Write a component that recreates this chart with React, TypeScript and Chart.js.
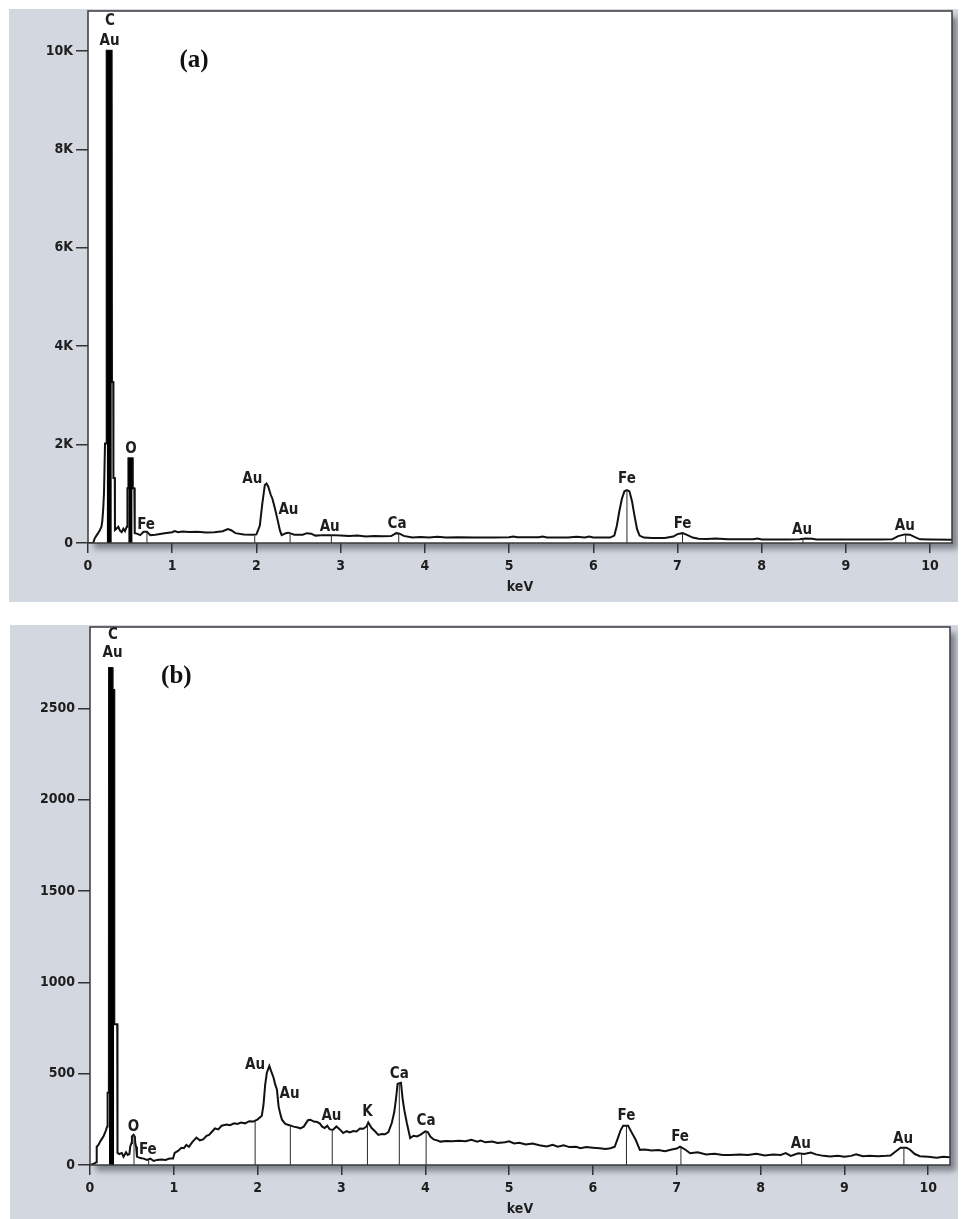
import React, { useEffect, useRef } from "react";
import { Chart, registerables } from "chart.js";

Chart.register(...registerables);

// ---------- Panel (a) data ----------
const specAKeV = [
  0.0, 0.06, 0.08, 0.1, 0.12, 0.14, 0.16, 0.17, 0.18, 0.19, 0.2, 0.202, 0.218, 0.222, 0.281, 0.285, 0.3, 0.302, 0.318, 0.32,
  0.33, 0.36, 0.38, 0.4, 0.42, 0.44, 0.46, 0.465, 0.468, 0.478, 0.48, 0.53, 0.532, 0.55, 0.555,
  0.58, 0.62, 0.66, 0.7, 0.74, 0.8, 0.91, 1.0, 1.03, 1.07, 1.12, 1.2, 1.3, 1.4, 1.5, 1.6, 1.66, 1.7, 1.75, 1.85, 1.95, 2.0,
  2.04, 2.07, 2.1, 2.12, 2.14, 2.17, 2.19, 2.22, 2.25, 2.28, 2.3, 2.35, 2.38, 2.45, 2.55, 2.6, 2.65, 2.7, 2.8, 2.9, 3.0,
  3.1, 3.2, 3.3, 3.4, 3.5, 3.6, 3.66, 3.7, 3.75, 3.85, 3.95, 4.05, 4.15, 4.25, 4.4, 4.6, 4.8, 5.0, 5.05, 5.1, 5.35, 5.4,
  5.45, 5.7, 5.8, 5.9, 5.95, 6.0, 6.2, 6.25, 6.28, 6.31, 6.34, 6.37, 6.4, 6.43, 6.46, 6.49, 6.52, 6.55, 6.6, 6.7, 6.85,
  6.95, 7.0, 7.06, 7.12, 7.18, 7.25, 7.35, 7.45, 7.6, 7.9, 7.95, 8.0, 8.3, 8.45, 8.52, 8.6, 8.65, 9.0, 9.4, 9.55, 9.62,
  9.7, 9.76, 9.82, 9.88, 10.0, 10.26,
];
const specACounts = [
  0, 0, 95, 150, 200, 260, 330, 450, 670, 1015, 1015, 2020, 2020, 10000, 10000, 3270, 3270, 1320, 1320, 264,
  280, 330, 250, 220, 290, 240, 330, 330, 1110, 1110, 1720, 1720, 1110, 1110, 200,
  190, 160, 230, 230, 160, 170, 197, 220, 244, 220, 235, 225, 230, 215, 220, 240, 285, 260, 200, 175, 170, 175,
  350, 800, 1180, 1210, 1150, 980, 900, 700, 480, 250, 160, 200, 210, 170, 170, 200, 190, 150, 160, 160, 150,
  140, 150, 130, 140, 135, 140, 200, 190, 145, 110, 120, 110, 125, 110, 115, 110, 110, 115, 130, 115, 115, 130,
  110, 110, 125, 110, 130, 110, 110, 150, 350, 650, 900, 1050, 1076, 1050, 850, 550, 280, 150, 110, 100, 100,
  130, 180, 200, 160, 110, 85, 80, 90, 75, 75, 90, 70, 70, 75, 90, 85, 70, 70, 70, 75, 140,
  175, 170, 120, 75, 70, 65,
];
// solid black peak regions (keV, counts)
const fillAKeV = [0.222, 0.222, 0.281, 0.281, 0.48, 0.48, 0.53, 0.53];
const fillACounts = [0, 10000, 10000, 0, 0, 1720, 1720, 0];
// element marker lines
const markerAKeV = [0.505, 0.7, 1.98, 2.4, 2.89, 3.69, 6.4, 7.06, 8.49, 9.71];
const markerATop = [1720, 230, 175, 205, 160, 190, 1076, 200, 85, 175];
// element labels
const labelAText = ["C", "Au", "O", "Fe", "Au", "Au", "Au", "Ca", "Fe", "Fe", "Au", "Au"];
const labelAKeV = [0.26, 0.255, 0.51, 0.69, 1.95, 2.38, 2.87, 3.67, 6.4, 7.06, 8.48, 9.7];
const labelACounts = [10600, 10190, 1910, 365, 1300, 670, 330, 385, 1300, 385, 264, 345];
const yTicksA = [0, 2000, 4000, 6000, 8000, 10000];

// ---------- Panel (b) data ----------
const specBKeV = [
  0.0, 0.06, 0.075, 0.08, 0.1, 0.13, 0.16, 0.19, 0.205, 0.21, 0.225, 0.227, 0.268, 0.27, 0.288, 0.29, 0.325, 0.328,
  0.35, 0.38, 0.4, 0.43, 0.45, 0.47, 0.48, 0.495, 0.5, 0.52, 0.535, 0.54, 0.55, 0.56, 0.6, 0.64, 0.68, 0.72, 0.76, 0.8,
  0.85, 0.9, 0.95, 0.99, 1.01, 1.05, 1.09, 1.12, 1.15, 1.18, 1.22, 1.27, 1.31, 1.35, 1.39, 1.42, 1.46, 1.49, 1.53, 1.57,
  1.63, 1.67, 1.72, 1.76, 1.8, 1.85, 1.9, 1.95, 2.0, 2.03, 2.05, 2.07, 2.09, 2.11, 2.14, 2.16, 2.19, 2.21, 2.23, 2.25,
  2.27, 2.29, 2.33, 2.38, 2.43, 2.48, 2.51, 2.55, 2.6, 2.63, 2.67, 2.71, 2.74, 2.77, 2.8, 2.83, 2.86, 2.9, 2.94, 2.98,
  3.02, 3.06, 3.1, 3.14, 3.18, 3.22, 3.26, 3.3, 3.32, 3.36, 3.4, 3.44, 3.48, 3.52, 3.56, 3.6, 3.63, 3.65, 3.67, 3.71,
  3.73, 3.75, 3.78, 3.82, 3.86, 3.9, 3.94, 4.0, 4.03, 4.06, 4.1, 4.14, 4.18, 4.25, 4.32, 4.4, 4.48, 4.55, 4.62, 4.66,
  4.72, 4.8, 4.86, 4.95, 5.0, 5.06, 5.12, 5.2, 5.28, 5.36, 5.45, 5.52, 5.58, 5.65, 5.72, 5.8, 5.85, 5.92, 6.0, 6.08,
  6.15, 6.21, 6.26, 6.29, 6.33, 6.36, 6.42, 6.46, 6.51, 6.56, 6.62, 6.7, 6.78, 6.86, 6.94, 7.0, 7.04, 7.1, 7.16, 7.25,
  7.35, 7.45, 7.55, 7.64, 7.75, 7.85, 7.95, 8.05, 8.15, 8.24, 8.3, 8.36, 8.45, 8.52, 8.6, 8.66, 8.75, 8.83, 8.92, 9.0,
  9.08, 9.14, 9.22, 9.3, 9.4, 9.5, 9.55, 9.6, 9.67, 9.74, 9.78, 9.84, 9.9, 10.0, 10.1, 10.18, 10.26,
];
const specBCounts = [
  0, 10, 15, 100, 110, 135, 156, 190, 211, 395, 395, 2720, 2720, 2600, 2600, 770, 770, 66,
  60, 66, 45, 70, 55, 60, 101, 120, 156, 165, 156, 120, 100, 46, 38, 35, 28, 35, 22, 28,
  30, 28, 35, 35, 66, 77, 94, 92, 110, 100, 125, 150, 135, 140, 160, 165, 185, 200, 195, 215,
  222, 218, 228, 225, 232, 228, 240, 238, 250, 262, 270, 330, 440, 505, 542, 515, 478, 440, 413, 321,
  280, 248, 225, 218, 210, 205, 200, 210, 245, 248, 238, 235, 228, 210, 202, 215, 195, 193, 211, 195,
  175, 185, 178, 186, 184, 200, 198, 211, 233, 202, 185, 165, 170, 168, 180, 230, 290, 360, 445, 450,
  360, 300, 230, 147, 160, 156, 165, 184, 180, 156, 140, 135, 128, 132, 130, 133, 130, 138, 128, 134,
  124, 128, 120, 125, 130, 118, 122, 112, 118, 108, 101, 110, 100, 108, 98, 100, 92, 98, 95, 92,
  88, 92, 100, 138, 190, 215, 215, 180, 138, 83, 85, 80, 82, 76, 85, 90, 101, 85, 64, 70,
  58, 62, 55, 55, 58, 55, 62, 52, 58, 55, 65, 50, 64, 60, 68, 58, 50, 46, 50, 45,
  50, 59, 48, 50, 48, 50, 52, 70, 95, 95, 85, 60, 48, 45, 40, 45, 42,
];
const fillBKeV = [0.227, 0.227, 0.268, 0.268, 0.288, 0.288];
const fillBCounts = [0, 2720, 2720, 2600, 2600, 0];
const markerBKeV = [0.525, 0.7, 1.97, 2.39, 2.89, 3.31, 3.69, 4.01, 6.4, 7.05, 8.49, 9.71];
const markerBTop = [165, 30, 245, 218, 193, 225, 450, 184, 215, 101, 62, 95];
const labelBText = ["C", "Au", "O", "Fe", "Au", "Au", "Au", "K", "Ca", "Ca", "Fe", "Fe", "Au", "Au"];
const labelBKeV = [0.275, 0.27, 0.52, 0.69, 1.97, 2.38, 2.88, 3.31, 3.69, 4.01, 6.4, 7.04, 8.48, 9.7];
const labelBCounts = [2900, 2800, 210, 83, 547, 386, 266, 287, 496, 239, 266, 154, 116, 143];
const yTicksB = [0, 500, 1000, 1500, 2000, 2500];

const xTicks = [0, 1, 2, 3, 4, 5, 6, 7, 8, 9, 10];

const TICK_FONT = '"DejaVu Sans Condensed", "DejaVu Sans", sans-serif';

const edsPlugin = {
  id: "eds",
  beforeDraw(chart: any) {
    const { ctx, chartArea: a } = chart;
    ctx.save();
    ctx.fillStyle = "#d3d8e0";
    ctx.fillRect(0, 0, chart.width, chart.height);
    ctx.shadowColor = "rgba(70,74,82,0.6)";
    ctx.shadowOffsetX = 6;
    ctx.shadowOffsetY = 6;
    ctx.shadowBlur = 6;
    ctx.fillStyle = "#ffffff";
    ctx.fillRect(a.left, a.top, a.right - a.left, a.bottom - a.top);
    ctx.restore();
  },
  afterDraw(chart: any, _args: any, opts: any) {
    const { ctx, chartArea: a } = chart;
    const xs = chart.scales.x;
    const ys = chart.scales.y;
    ctx.save();
    ctx.strokeStyle = "#3a3a3a";
    ctx.lineWidth = 1.5;
    ctx.strokeRect(a.left, a.top, a.right - a.left, a.bottom - a.top);
    ctx.fillStyle = "#1e1e1e";
    ctx.font = `bold 15px ${TICK_FONT}`;
    ctx.textAlign = "center";
    ctx.textBaseline = "middle";
    const t: string[] = opts.labelText || [];
    for (let i = 0; i < t.length; i++) {
      ctx.fillText(t[i], xs.getPixelForValue(opts.labelKeV[i]), ys.getPixelForValue(opts.labelCounts[i]));
    }
    ctx.fillStyle = "#111";
    ctx.font = 'bold 25px "Liberation Serif", "Times New Roman", serif';
    ctx.fillText(opts.panel, xs.getPixelForValue(opts.panelKeV), ys.getPixelForValue(opts.panelCounts));
    ctx.restore();
  },
};

function toXY(xs: number[], ys: number[]) {
  return xs.map((x, i) => ({ x, y: ys[i] }));
}

function markerData(xs: number[], tops: number[]) {
  const out: any[] = [];
  xs.forEach((x, i) => {
    out.push({ x, y: 0 }, { x, y: tops[i] }, { x, y: null });
  });
  return out;
}

type PanelProps = {
  width: number;
  height: number;
  style: React.CSSProperties;
  yWidth: number;
  xHeight: number;
  padTop: number;
  padRight: number;
  yMax: number;
  yTicks: number[];
  yFmt: (v: number) => string;
  titlePad: number;
  specKeV: number[];
  specCounts: number[];
  fillKeV: number[];
  fillCounts: number[];
  markerKeV: number[];
  markerTop: number[];
  labelText: string[];
  labelKeV: number[];
  labelCounts: number[];
  panel: string;
  panelKeV: number;
  panelCounts: number;
};

function Panel(p: PanelProps) {
  const ref = useRef<HTMLCanvasElement | null>(null);
  useEffect(() => {
    if (!ref.current) return;
    const zeroPad = (s: any) => {
      s.paddingTop = 0;
      s.paddingBottom = 0;
      s.paddingLeft = 0;
      s.paddingRight = 0;
    };
    const chart = new Chart(ref.current, {
      type: "line",
      data: {
        datasets: [
          {
            data: toXY(p.fillKeV, p.fillCounts),
            borderWidth: 0,
            borderColor: "rgba(0,0,0,0)",
            backgroundColor: "#000",
            fill: "origin",
            pointRadius: 0,
            tension: 0,
          },
          {
            data: markerData(p.markerKeV, p.markerTop),
            borderWidth: 1,
            borderColor: "#2a2a2a",
            pointRadius: 0,
            spanGaps: false,
            fill: false,
            tension: 0,
          },
          {
            data: toXY(p.specKeV, p.specCounts),
            borderWidth: 2,
            borderColor: "#111",
            pointRadius: 0,
            fill: false,
            tension: 0,
            borderJoinStyle: "miter",
          },
        ],
      } as any,
      options: {
        responsive: false,
        animation: false,
        devicePixelRatio: 1,
        layout: { padding: { top: p.padTop, right: p.padRight, left: 0, bottom: 0 } },
        plugins: {
          legend: { display: false },
          tooltip: { enabled: false },
          eds: {
            labelText: p.labelText,
            labelKeV: p.labelKeV,
            labelCounts: p.labelCounts,
            panel: p.panel,
            panelKeV: p.panelKeV,
            panelCounts: p.panelCounts,
          },
        } as any,
        scales: {
          x: {
            type: "linear",
            min: 0,
            max: 10.26,
            afterFit: (s: any) => {
              s.height = p.xHeight;
              zeroPad(s);
            },
            afterBuildTicks: (s: any) => {
              s.ticks = xTicks.map((v) => ({ value: v }));
            },
            ticks: {
              includeBounds: false,
              autoSkip: false,
              maxRotation: 0,
              padding: 5,
              color: "#1e1e1e",
              font: { family: TICK_FONT, size: 14, weight: "bold" },
              callback: (v: any) => String(v),
            },
            grid: {
              drawOnChartArea: false,
              drawTicks: true,
              tickLength: 10,
              color: "#333",
              lineWidth: 1.5,
            },
            border: { display: false },
            title: {
              display: true,
              text: "keV",
              color: "#1e1e1e",
              font: { family: TICK_FONT, size: 14, weight: "bold" },
              padding: { top: 0, bottom: p.titlePad },
            },
          },
          y: {
            type: "linear",
            min: 0,
            max: p.yMax,
            afterFit: (s: any) => {
              s.width = p.yWidth;
              zeroPad(s);
            },
            afterBuildTicks: (s: any) => {
              s.ticks = p.yTicks.map((v) => ({ value: v }));
            },
            ticks: {
              includeBounds: false,
              autoSkip: false,
              padding: 3,
              color: "#1e1e1e",
              font: { family: TICK_FONT, size: 14, weight: "bold" },
              callback: (v: any) => p.yFmt(Number(v)),
            },
            grid: {
              drawOnChartArea: false,
              drawTicks: true,
              tickLength: 12,
              color: "#333",
              lineWidth: 1.5,
            },
            border: { display: false },
          },
        },
      } as any,
      plugins: [edsPlugin as any],
    });
    return () => chart.destroy();
  }, []);
  return <canvas ref={ref} width={p.width} height={p.height} style={{ display: "block", ...p.style }} />;
}

export default function App() {
  return (
    <div>
      <Panel
        width={957}
        height={593}
        style={{ marginLeft: 1, marginTop: 1 }}
        yWidth={79}
        xHeight={59}
        padTop={2}
        padRight={14}
        yMax={10810}
        yTicks={yTicksA}
        yFmt={(v) => (v === 0 ? "0" : `${v / 1000}K`)}
        titlePad={6}
        specKeV={specAKeV}
        specCounts={specACounts}
        fillKeV={fillAKeV}
        fillCounts={fillACounts}
        markerKeV={markerAKeV}
        markerTop={markerATop}
        labelText={labelAText}
        labelKeV={labelAKeV}
        labelCounts={labelACounts}
        panel="(a)"
        panelKeV={1.26}
        panelCounts={9800}
      />
      <Panel
        width={956}
        height={594}
        style={{ marginLeft: 2, marginTop: 23 }}
        yWidth={80}
        xHeight={54}
        padTop={2}
        padRight={16}
        yMax={2945}
        yTicks={yTicksB}
        yFmt={(v) => String(v)}
        titlePad={1}
        specKeV={specBKeV}
        specCounts={specBCounts}
        fillKeV={fillBKeV}
        fillCounts={fillBCounts}
        markerKeV={markerBKeV}
        markerTop={markerBTop}
        labelText={labelBText}
        labelKeV={labelBKeV}
        labelCounts={labelBCounts}
        panel="(b)"
        panelKeV={1.03}
        panelCounts={2674}
      />
    </div>
  );
}
